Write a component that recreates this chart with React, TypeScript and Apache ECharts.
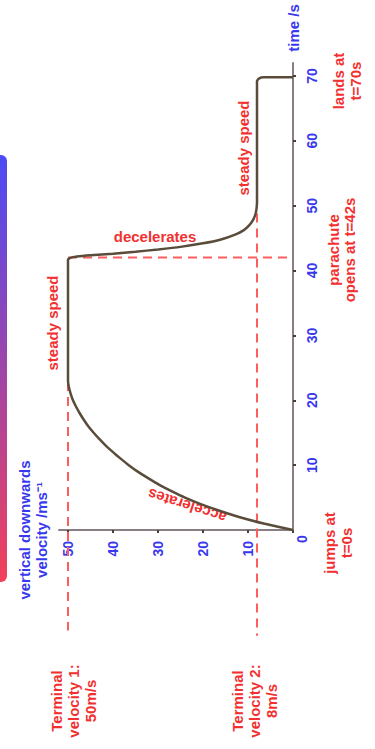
import React, { useEffect, useRef } from 'react';
import * as echarts from 'echarts';

// ticks
const timeTicks = [10, 20, 30, 40, 50, 60, 70];
const velocityTicks = [0, 10, 20, 30, 40, 50];
const velocityLabelTicks = [10, 20, 30, 40, 50];

// [velocity m/s, time s]
const fallCurve: number[][] = [
  [0, 0], [6.5, 1], [12, 2], [16.5, 3], [20.5, 4], [24, 5], [27, 6], [29.8, 7], [32.2, 8],
  [34.5, 9], [36.5, 10], [38.3, 11], [40, 12], [41.6, 13], [43, 14], [44.3, 15], [45.5, 16],
  [46.5, 17], [47.4, 18], [48.2, 19], [48.9, 20], [49.4, 21], [49.8, 22], [50, 23],
  [50, 41.7], [49.5, 41.95], [48, 42.15], [45, 42.35], [40, 42.6], [35, 42.9], [30, 43.25],
  [25, 43.65], [20, 44.2], [16, 44.8], [13, 45.5], [11, 46.2], [9.7, 47], [8.8, 47.9],
  [8.3, 48.8], [8.1, 49.6], [8, 50.5], [8, 69.2], [7.6, 69.6], [6.5, 69.8], [0, 69.8],
];
const terminal1Guide: number[][] = [[50, 22.8], [50, -15.5]];
const terminal2Guide: number[][] = [[8, 48.8], [8, -16.3]];
const parachuteGuide: number[][] = [[50, 42], [0.8, 42]];

const BLUE = '#3838ee';
const RED = '#f23030';
const FONT = '"Liberation Sans", Arial, sans-serif';

function txt(text: string, x: number, y: number, color: string, rotation = Math.PI / 2, extra: any = {}) {
  return {
    type: 'text',
    x,
    y,
    rotation,
    style: {
      text,
      fill: color,
      fontSize: 15,
      fontWeight: 'bold',
      fontFamily: FONT,
      lineHeight: 17,
      align: 'center',
      verticalAlign: 'middle',
      textAlign: 'center',
      textVerticalAlign: 'middle',
      ...extra,
    },
  };
}

export default function App() {
  const ref = useRef<HTMLDivElement>(null);
  useEffect(() => {
    const chart = echarts.init(ref.current!, null, { renderer: 'svg' });
    const dashed = (data: number[][]) => ({
      type: 'line',
      data,
      clip: false,
      symbol: 'none',
      silent: true,
      lineStyle: { color: '#ff5c5c', width: 2, type: [9, 6] },
      z: 1,
    });
    chart.setOption({
      animation: false,
      backgroundColor: '#ffffff',
      grid: { left: 59, right: 82, top: 63, bottom: 219, containLabel: false },
      xAxis: {
        type: 'value',
        min: 0,
        max: 52,
        interval: 10,
        inverse: true,
        position: 'bottom',
        splitLine: { show: false },
        axisLine: { show: true, onZero: false, lineStyle: { color: '#8a7e84', width: 2 } },
        axisTick: { show: true, length: 3, customValues: velocityTicks, lineStyle: { color: '#4a3f30', width: 2 } },
        axisLabel: {
          customValues: velocityLabelTicks,
          rotate: 90,
          margin: 11,
          color: BLUE,
          fontSize: 14,
          fontWeight: 'bold',
          fontFamily: FONT,
        },
      },
      yAxis: {
        type: 'value',
        min: 0,
        max: 72,
        interval: 10,
        position: 'right',
        splitLine: { show: false },
        axisLine: { show: true, onZero: false, lineStyle: { color: '#8a7e84', width: 2 } },
        axisTick: { show: true, length: 3, customValues: timeTicks, lineStyle: { color: '#4a3f30', width: 2 } },
        axisLabel: {
          customValues: timeTicks,
          rotate: 90,
          margin: 12,
          color: BLUE,
          fontSize: 14,
          fontWeight: 'bold',
          fontFamily: FONT,
        },
      },
      series: [
        dashed(terminal1Guide),
        dashed(terminal2Guide),
        dashed(parachuteGuide),
        {
          type: 'line',
          data: fallCurve,
          symbol: 'none',
          clip: false,
          smooth: 0.15,
          lineStyle: { color: '#5a4c3a', width: 2.5 },
          z: 3,
        },
      ],
      graphic: [
        {
          type: 'rect',
          shape: { x: -8, y: 155, width: 15, height: 427, r: 6 },
          style: {
            fill: new echarts.graphic.LinearGradient(0, 0, 0, 1, [
              { offset: 0, color: '#4b4bf5' },
              { offset: 1, color: '#f2405a' },
            ]),
          },
        },
        txt('0', 302, 539, BLUE, Math.PI / 2, { fontSize: 14 }),
        txt('time /s', 293, 28, BLUE),
        txt('vertical downwards\nvelocity /ms⁻¹', 33, 530, BLUE),
        txt('steady speed', 52, 323, RED),
        txt('steady speed', 243, 148, RED),
        txt('decelerates', 155, 236, RED, 0),
        txt('accelerates', 187, 506, RED, 2.83),
        txt('lands at\nt=70s', 347, 81, RED),
        txt('parachute\nopens at t=42s', 341, 250, RED, Math.PI / 2, { lineHeight: 16 }),
        txt('jumps at\nt=0s', 338, 543, RED),
        txt('Terminal\nvelocity 1:\n50m/s', 73, 701, RED),
        txt('Terminal\nvelocity 2:\n8m/s', 254, 701, RED),
      ],
    });
    return () => chart.dispose();
  }, []);
  return <div ref={ref} style={{ position: 'fixed', left: 0, top: 0, width: 375, height: 749 }} />;
}
